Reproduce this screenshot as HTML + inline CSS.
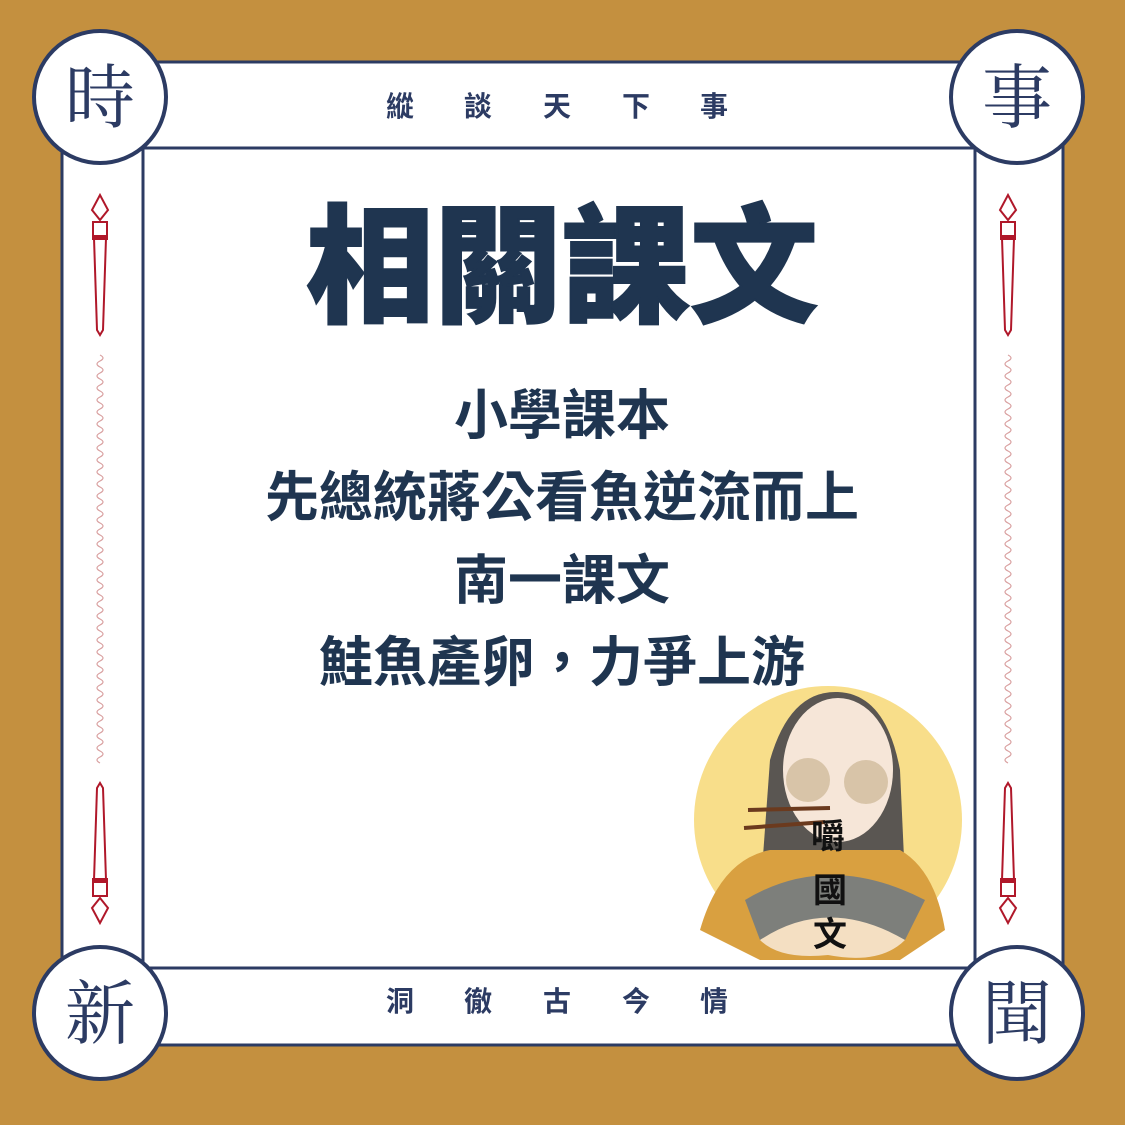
<!DOCTYPE html>
<html><head><meta charset="utf-8">
<style>
html,body{margin:0;padding:0;background:#C4903F;}
svg{display:block;}
text{font-family:"Liberation Sans","Noto Sans CJK TC",sans-serif;}
.serif{font-family:"Liberation Serif","Noto Serif CJK SC",serif;}
</style></head>
<body>
<svg width="1125" height="1125" viewBox="0 0 1125 1125">
<rect width="1125" height="1125" fill="#C4903F"/>
<rect x="62" y="62" width="1001" height="983" fill="#fff" stroke="#2C3B63" stroke-width="3"/>
<rect x="143" y="148" width="832" height="820" fill="#fff" stroke="#2C3B63" stroke-width="3"/>

<g class="serif" font-size="28" font-weight="bold" fill="#2C3B63" text-anchor="middle">
<text x="400" y="116">縱</text><text x="478" y="116">談</text><text x="557" y="116">天</text><text x="636" y="116">下</text><text x="714" y="116">事</text>
</g>
<g class="serif" font-size="28" font-weight="bold" fill="#2C3B63" text-anchor="middle">
<text x="400" y="1011">洞</text><text x="478" y="1011">徹</text><text x="557" y="1011">古</text><text x="636" y="1011">今</text><text x="714" y="1011">情</text>
</g>

<g>
<circle cx="100" cy="97" r="66" fill="#fff" stroke="#2C3B63" stroke-width="4"/>
<circle cx="1017" cy="97" r="66" fill="#fff" stroke="#2C3B63" stroke-width="4"/>
<circle cx="100" cy="1013" r="66" fill="#fff" stroke="#2C3B63" stroke-width="4"/>
<circle cx="1017" cy="1013" r="66" fill="#fff" stroke="#2C3B63" stroke-width="4"/>
<text x="100" y="122" text-anchor="middle" class="serif" font-size="70" fill="#2C3B63">時</text>
<text x="1017" y="122" text-anchor="middle" class="serif" font-size="70" fill="#2C3B63">事</text>
<text x="100" y="1038" text-anchor="middle" class="serif" font-size="70" fill="#2C3B63">新</text>
<text x="1017" y="1038" text-anchor="middle" class="serif" font-size="70" fill="#2C3B63">聞</text>
</g>

<g fill="none" stroke="#B0182A" stroke-width="2">
<g transform="translate(100,190)"><path d="M0,5 L-8,20 L0,30 L8,20 Z M-7,32 h14 v14 h-14 Z M-6,48 L-3,140 L0,145 L3,140 L6,48 Z"/><line x1="-8" y1="48" x2="8" y2="48" stroke-width="4"/></g>
<g transform="translate(1008,190)"><path d="M0,5 L-8,20 L0,30 L8,20 Z M-7,32 h14 v14 h-14 Z M-6,48 L-3,140 L0,145 L3,140 L6,48 Z"/><line x1="-8" y1="48" x2="8" y2="48" stroke-width="4"/></g>
<g transform="translate(100,928) scale(1,-1)"><path d="M0,5 L-8,20 L0,30 L8,20 Z M-7,32 h14 v14 h-14 Z M-6,48 L-3,140 L0,145 L3,140 L6,48 Z"/><line x1="-8" y1="48" x2="8" y2="48" stroke-width="4"/></g>
<g transform="translate(1008,928) scale(1,-1)"><path d="M0,5 L-8,20 L0,30 L8,20 Z M-7,32 h14 v14 h-14 Z M-6,48 L-3,140 L0,145 L3,140 L6,48 Z"/><line x1="-8" y1="48" x2="8" y2="48" stroke-width="4"/></g>
</g>
<g fill="none" stroke="#D9A0A0" stroke-width="1.2">
<path id="w1" d=""/><path id="w2" d=""/>
</g>

<text x="562" y="312" text-anchor="middle" font-size="128" font-weight="900" fill="#1F3550" stroke="#1F3550" stroke-width="2">相關課文</text>
<g font-weight="bold" fill="#1F3550" font-size="54" text-anchor="middle">
<text x="562" y="434">小學課本</text>
<text x="562" y="516">先總統蔣公看魚逆流而上</text>
<text x="562" y="599">南一課文</text>
<text x="562" y="681">鮭魚產卵，力爭上游</text>
</g>

<g>
<circle cx="828" cy="820" r="134" fill="#F8DE8A"/>
<path d="M762,870 L770,760 Q790,690 838,692 Q886,694 900,770 L905,880 Z" fill="#5A5652"/>
<ellipse cx="838" cy="770" rx="55" ry="72" fill="#F6E6D8"/>
<circle cx="808" cy="780" r="22" fill="#D8C4A8"/><circle cx="866" cy="782" r="22" fill="#D8C4A8"/>
<path d="M700,930 Q720,860 770,850 L900,850 Q935,870 945,930 L900,960 L760,960 Z" fill="#D9A040"/>
<path d="M745,900 Q828,850 925,900 L905,940 Q828,900 760,940 Z" fill="#7D7F7B"/>
<path d="M760,940 Q828,895 905,940 Q880,965 828,955 Q780,960 760,940 Z" fill="#F4DFC2"/>
<line x1="748" y1="810" x2="830" y2="808" stroke="#6B3A1E" stroke-width="4"/>
<line x1="744" y1="828" x2="825" y2="822" stroke="#6B3A1E" stroke-width="4"/>
<text x="828" y="848" text-anchor="middle" font-size="34" fill="#111" font-weight="bold">嚼</text>
<text x="830" y="902" text-anchor="middle" font-size="34" fill="#111" font-weight="bold">國</text>
<text x="830" y="946" text-anchor="middle" font-size="34" fill="#111" font-weight="bold">文</text>
</g>
</svg>
<script>
function wave(x,y0,y1){var d='M'+x+','+y0;for(var y=y0;y<y1;y+=12){d+=' q6,3 0,6 q-6,3 0,6';}return d;}
document.getElementById('w1').setAttribute('d',wave(100,355,755));
document.getElementById('w2').setAttribute('d',wave(1008,355,755));
</script>
</body></html>
